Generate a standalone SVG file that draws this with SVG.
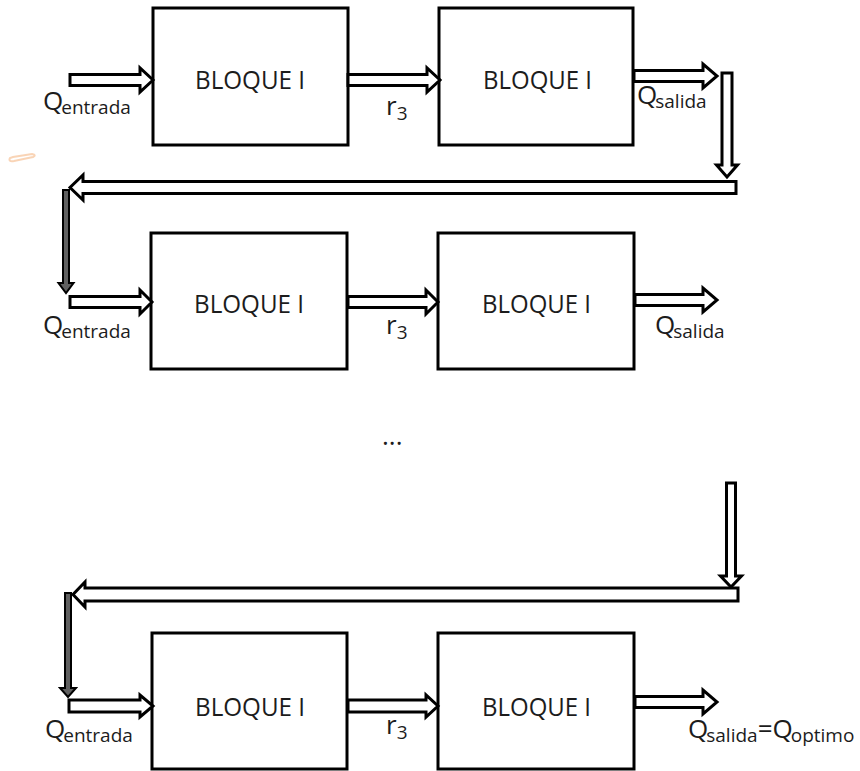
<svg xmlns="http://www.w3.org/2000/svg" width="860" height="771" viewBox="0 0 860 771">
  <style>
    .box { fill: #ffffff; stroke: #000000; stroke-width: 3; }
    .arrow { fill: #ffffff; stroke: #000000; stroke-width: 3; stroke-linejoin: miter; }
    .drop { fill: #606060; stroke: #000000; stroke-width: 2; stroke-linejoin: miter; }
    .lbl { font-family: "Open Sans", "Liberation Sans", sans-serif; fill: #1c1c1c; }
    .big { font-size: 25px; }
    .main { font-size: 26px; }
    .sub { font-size: 19px; }
  </style>
  <rect width="860" height="771" fill="#ffffff"/>

  <!-- small pen stroke at the left margin -->
  <path d="M10,158 Q8,162 14,161 L33,157 Q37,155 32,154 L13,157 Z" fill="none" stroke="#f7c9a4" stroke-width="2" opacity="0.8"/>

  <!-- row 1 -->
  <g id="r1-bloque-a">
    <rect class="box" x="153" y="8" width="195" height="137"/>
    <text class="lbl big" x="195" y="89" textLength="110" lengthAdjust="spacingAndGlyphs">BLOQUE I</text>
  </g>
  <g id="r1-bloque-b">
    <rect class="box" x="439" y="8" width="194" height="137"/>
    <text class="lbl big" x="483" y="89" textLength="109" lengthAdjust="spacingAndGlyphs">BLOQUE I</text>
  </g>

  <!-- row 2 -->
  <g id="r2-bloque-a">
    <rect class="box" x="151" y="233" width="196" height="136"/>
    <text class="lbl big" x="194" y="313" textLength="110" lengthAdjust="spacingAndGlyphs">BLOQUE I</text>
  </g>
  <g id="r2-bloque-b">
    <rect class="box" x="438" y="233" width="196" height="136"/>
    <text class="lbl big" x="482" y="313" textLength="109" lengthAdjust="spacingAndGlyphs">BLOQUE I</text>
  </g>

  <!-- row 3 -->
  <g id="r3-bloque-a">
    <rect class="box" x="152" y="633" width="195" height="136"/>
    <text class="lbl big" x="195" y="716" textLength="110" lengthAdjust="spacingAndGlyphs">BLOQUE I</text>
  </g>
  <g id="r3-bloque-b">
    <rect class="box" x="438" y="633" width="196" height="136"/>
    <text class="lbl big" x="482" y="716" textLength="109" lengthAdjust="spacingAndGlyphs">BLOQUE I</text>
  </g>

  <!-- hollow block arrows -->
  <g id="connectors">
    <!-- row 1 -->
    <path class="arrow" d="M70,74.5 H140 V68 L153,80 L140,92 V85.5 H70 Z"/>
    <path class="arrow" d="M348,74.5 H427 V68 L440,80 L427,92 V85.5 H348 Z"/>
    <path class="arrow" d="M634,70.5 H703 V64 L717,76 L703,88 V81.5 H634 Z"/>
    <path class="arrow" d="M722,73 V165 H716.5 L727,177 L737.5,165 H732 V73 Z"/>
    <!-- return to row 2 -->
    <path class="arrow" d="M736,181.5 H83 V175 L70,187.5 L83,200 V193.5 H736 Z"/>
    <path class="drop" d="M63,190 V283 H58.5 L66,293 L73.5,283 H69 V190 Z"/>
    <!-- row 2 -->
    <path class="arrow" d="M70,296.5 H140 V290 L152,302 L140,314 V307.5 H70 Z"/>
    <path class="arrow" d="M348,296.5 H426 V290 L438,302 L426,314 V307.5 H348 Z"/>
    <path class="arrow" d="M635,294.5 H703 V288 L717,300 L703,312 V305.5 H635 Z"/>
    <!-- continuation before row 3 -->
    <path class="arrow" d="M726.5,483 V576 H720.5 L731,587 L741.5,576 H735.5 V483 Z"/>
    <path class="arrow" d="M738,588 H85 V582 L73,594.5 L85,607 V601 H738 Z"/>
    <path class="drop" d="M65,593 V688 H60 L68,697 L76,688 H71 V593 Z"/>
    <!-- row 3 -->
    <path class="arrow" d="M69,700 H140 V695 L153,706 L140,717 V712 H69 Z"/>
    <path class="arrow" d="M348,700 H426 V695 L438,706 L426,717 V712 H348 Z"/>
    <path class="arrow" d="M635,696.5 H703 V690 L717,702 L703,714 V707.5 H635 Z"/>
  </g>

  <!-- flow labels -->
  <g id="labels">
    <text class="lbl" x="43" y="110"><tspan class="main">Q</tspan><tspan class="sub" dx="-2" dy="4">entrada</tspan></text>
    <text class="lbl" x="386" y="115"><tspan class="main">r</tspan><tspan class="sub" dy="5">3</tspan></text>
    <text class="lbl" x="637" y="104"><tspan class="main">Q</tspan><tspan class="sub" dx="-2" dy="4">salida</tspan></text>

    <text class="lbl" x="43" y="334"><tspan class="main">Q</tspan><tspan class="sub" dx="-2" dy="4">entrada</tspan></text>
    <text class="lbl" x="386" y="334"><tspan class="main">r</tspan><tspan class="sub" dy="5">3</tspan></text>
    <text class="lbl" x="655" y="334"><tspan class="main">Q</tspan><tspan class="sub" dx="-2" dy="4">salida</tspan></text>

    <text class="lbl main" x="382" y="445">...</text>

    <text class="lbl" x="45" y="738"><tspan class="main">Q</tspan><tspan class="sub" dx="-2" dy="4">entrada</tspan></text>
    <text class="lbl" x="386" y="734"><tspan class="main">r</tspan><tspan class="sub" dy="5">3</tspan></text>
    <text class="lbl" x="688" y="738"><tspan class="main">Q</tspan><tspan class="sub" dx="-2" dy="4">salida</tspan><tspan class="main" dy="-4">=</tspan><tspan class="main">Q</tspan><tspan class="sub" dx="-2" dy="4">optimo</tspan></text>
  </g>
</svg>
